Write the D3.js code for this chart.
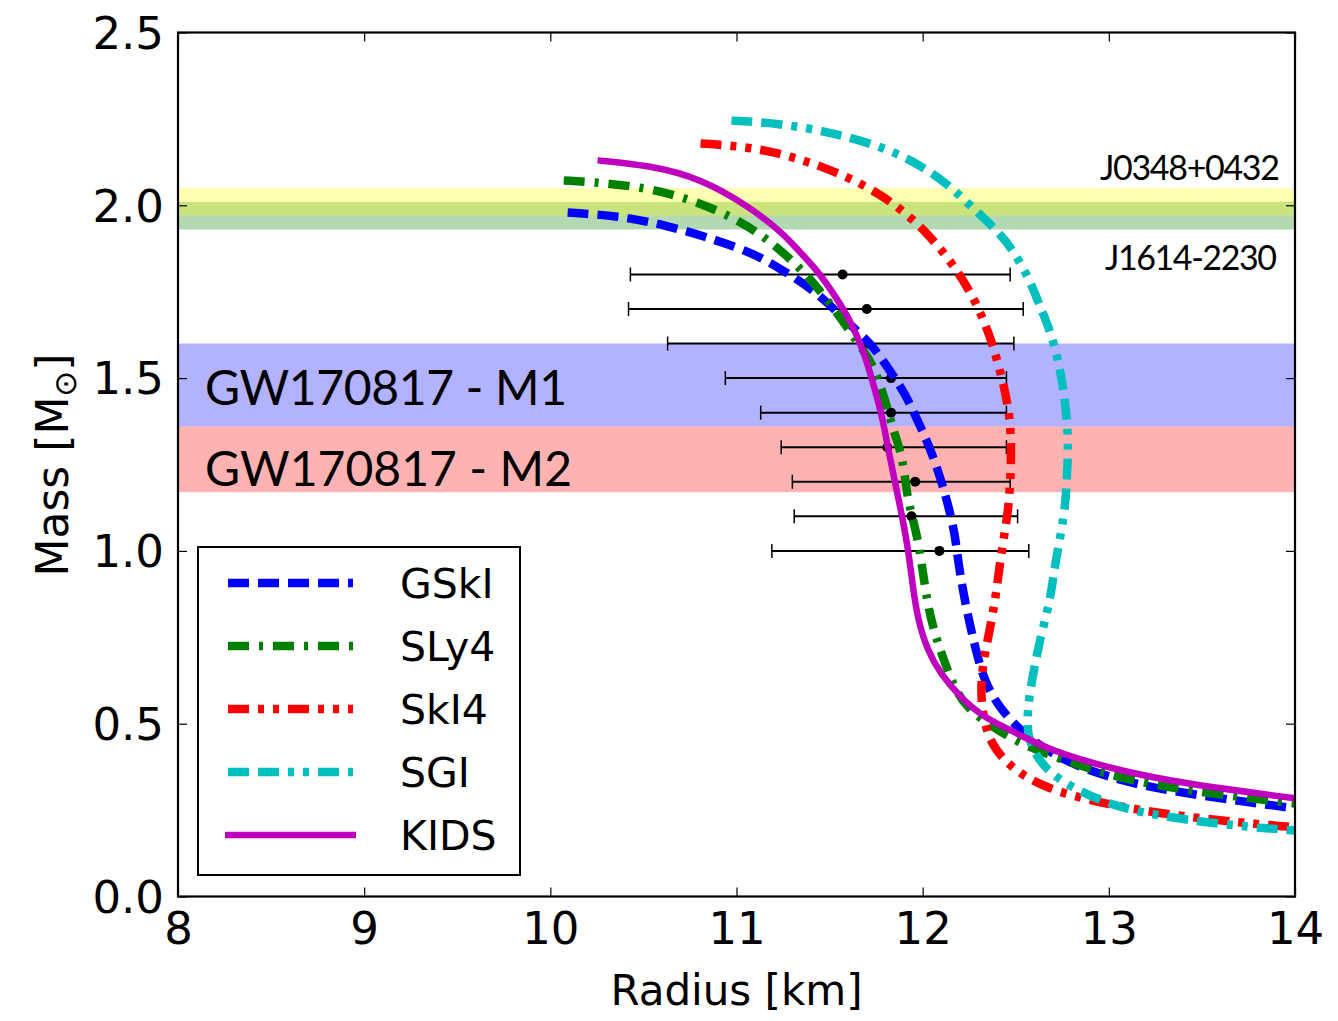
<!DOCTYPE html>
<html>
  <head>
    <meta charset="utf-8">
    <title>Mass-radius relation</title>
    <script src="https://cdnjs.cloudflare.com/ajax/libs/d3/7.8.5/d3.min.js"></script>
    <style>
      body { margin: 0; background: #fff; }
      svg text { font-family: "DejaVu Sans", sans-serif; fill: #000; }
      .band-label { font-family: Lato, "Open Sans", sans-serif; }
    </style>
  </head>

  <body>
    <div id="vis"></div>
    <script>
      // mass-radius curves, radius in km, mass in solar masses
      var gskiR = [10.093, 10.361, 10.630, 10.898, 11.090, 11.225, 11.360, 11.478, 11.601, 11.719, 11.816, 11.907, 11.977, 12.041, 12.095, 12.138, 12.175, 12.191, 12.234, 12.288, 12.331, 12.406, 12.514, 12.642, 12.793, 13.045, 13.399, 14.0];
      var gskiM = [1.979, 1.970, 1.942, 1.898, 1.861, 1.820, 1.774, 1.725, 1.658, 1.603, 1.528, 1.455, 1.372, 1.296, 1.212, 1.131, 1.045, 0.964, 0.833, 0.706, 0.625, 0.550, 0.486, 0.431, 0.385, 0.336, 0.298, 0.255];

      var sly4R = [10.072, 10.270, 10.538, 10.769, 10.984, 11.166, 11.370, 11.521, 11.655, 11.730, 11.773, 11.810, 11.848, 11.880, 11.901, 11.918, 11.945, 11.971, 11.993, 12.025, 12.057, 12.084, 12.170, 12.240, 12.342, 12.540, 12.776, 13.045, 13.399, 14.0];
      var sly4M = [2.072, 2.066, 2.049, 2.014, 1.965, 1.904, 1.806, 1.704, 1.600, 1.542, 1.479, 1.415, 1.340, 1.291, 1.233, 1.155, 1.097, 1.039, 0.972, 0.848, 0.778, 0.729, 0.599, 0.547, 0.501, 0.437, 0.391, 0.344, 0.307, 0.269];

      var ski4R = [10.807, 10.968, 11.183, 11.488, 11.773, 12.025, 12.240, 12.363, 12.444, 12.471, 12.476, 12.471, 12.460, 12.433, 12.410, 12.390, 12.363, 12.326, 12.310, 12.326, 12.363, 12.471, 12.648, 12.954, 13.399, 14.0];
      var ski4M = [2.179, 2.173, 2.159, 2.109, 2.037, 1.927, 1.774, 1.629, 1.464, 1.377, 1.282, 1.204, 1.117, 1.030, 0.943, 0.860, 0.778, 0.683, 0.596, 0.518, 0.443, 0.373, 0.315, 0.269, 0.229, 0.200];

      var sgiR = [10.973, 11.236, 11.505, 11.703, 11.864, 11.988, 12.132, 12.256, 12.401, 12.487, 12.578, 12.632, 12.685, 12.728, 12.755, 12.776, 12.782, 12.776, 12.766, 12.739, 12.712, 12.685, 12.632, 12.589, 12.562, 12.562, 12.616, 12.685, 12.830, 13.045, 13.313, 13.667, 14.0];
      var sgiM = [2.245, 2.237, 2.211, 2.182, 2.150, 2.115, 2.063, 1.999, 1.927, 1.869, 1.782, 1.704, 1.638, 1.551, 1.473, 1.377, 1.299, 1.224, 1.126, 1.039, 0.964, 0.856, 0.749, 0.634, 0.538, 0.460, 0.402, 0.356, 0.307, 0.258, 0.229, 0.205, 0.191];

      var kidsR = [10.254, 10.538, 10.807, 11.075, 11.252, 11.333, 11.435, 11.521, 11.612, 11.682, 11.735, 11.784, 11.816, 11.853, 11.891, 11.923, 11.945, 11.971, 12.025, 12.095, 12.202, 12.326, 12.508, 12.685, 13.045, 13.399, 14.0];
      var kidsM = [2.130, 2.115, 2.078, 1.994, 1.918, 1.869, 1.811, 1.745, 1.667, 1.580, 1.484, 1.386, 1.291, 1.195, 1.097, 1.001, 0.906, 0.807, 0.712, 0.645, 0.576, 0.518, 0.472, 0.422, 0.365, 0.327, 0.284];

      // radius estimates with horizontal error bars
      var errMass  = [1.8, 1.7, 1.6, 1.5, 1.4, 1.3, 1.2, 1.1, 1.0];
      var errR     = [11.57, 11.70, 11.70, 11.83, 11.83, 11.81, 11.96, 11.94, 12.09];
      var errLow   = [10.43, 10.42, 10.63, 10.94, 11.13, 11.24, 11.30, 11.31, 11.19];
      var errHigh  = [12.47, 12.54, 12.49, 12.45, 12.45, 12.45, 12.47, 12.51, 12.57];

      // horizontal mass bands [low, high]
      var j1614Band = [1.93, 2.01];
      var j0348Band = [1.97, 2.05];
      var gwM1Band  = [1.36, 1.60];
      var gwM2Band  = [1.17, 1.36];

      var xTicks = [8, 9, 10, 11, 12, 13, 14];
      var yTicks = [0.0, 0.5, 1.0, 1.5, 2.0, 2.5];

      var series = [
        { name: 'GSkI', r: gskiR, m: gskiM, color: '#0000ff', dash: '21,9', width: 8.5 },
        { name: 'SLy4', r: sly4R, m: sly4M, color: '#008000', dash: '21,10,4,10', width: 8.5 },
        { name: 'SkI4', r: ski4R, m: ski4M, color: '#ff0000', dash: '21,9,6,9,6,9', width: 8.5 },
        { name: 'SGI',  r: sgiR,  m: sgiM,  color: '#00bfbf', dash: '21,9,21,9,6,9,6,9', width: 8.5 },
        { name: 'KIDS', r: kidsR, m: kidsM, color: '#bf00bf', dash: null, width: 6.5 }
      ];

      var W = 1338, H = 1021;
      var plotL = 178, plotR = 1295, plotT = 32.5, plotB = 896.5;

      var x = d3.scaleLinear().domain([8, 14]).range([plotL, plotR]);
      var y = d3.scaleLinear().domain([0, 2.5]).range([plotB, plotT]);

      var svg = d3.select('#vis').append('svg')
                  .attr('width', W)
                  .attr('height', H);

      svg.append('defs').append('clipPath').attr('id', 'plot')
        .append('rect')
        .attr('x', plotL).attr('y', plotT)
        .attr('width', plotR - plotL).attr('height', plotB - plotT);

      var plot = svg.append('g').attr('clip-path', 'url(#plot)');

      // bands: green first, yellow over it
      var bands = [
        { b: j1614Band, color: 'green' },
        { b: j0348Band, color: 'yellow' },
        { b: gwM1Band,  color: 'blue' },
        { b: gwM2Band,  color: 'red' }
      ];
      plot.selectAll('rect.band').data(bands).enter()
        .append('rect')
        .attr('class', 'band')
        .attr('x', plotL)
        .attr('width', plotR - plotL)
        .attr('y', function(d){ return y(d.b[1]); })
        .attr('height', function(d){ return y(d.b[0]) - y(d.b[1]); })
        .attr('fill', function(d){ return d.color; })
        .attr('fill-opacity', 0.3);

      // error bars
      var eb = plot.selectAll('g.err').data(errMass).enter()
        .append('g').attr('class', 'err');
      eb.append('line')
        .attr('x1', function(d, i){ return x(errLow[i]); })
        .attr('x2', function(d, i){ return x(errHigh[i]); })
        .attr('y1', function(d){ return y(d); })
        .attr('y2', function(d){ return y(d); })
        .attr('stroke', '#000').attr('stroke-width', 2);
      eb.append('line')
        .attr('x1', function(d, i){ return x(errLow[i]); })
        .attr('x2', function(d, i){ return x(errLow[i]); })
        .attr('y1', function(d){ return y(d) - 7; })
        .attr('y2', function(d){ return y(d) + 7; })
        .attr('stroke', '#000').attr('stroke-width', 1.5);
      eb.append('line')
        .attr('x1', function(d, i){ return x(errHigh[i]); })
        .attr('x2', function(d, i){ return x(errHigh[i]); })
        .attr('y1', function(d){ return y(d) - 7; })
        .attr('y2', function(d){ return y(d) + 7; })
        .attr('stroke', '#000').attr('stroke-width', 1.5);
      eb.append('circle')
        .attr('cx', function(d, i){ return x(errR[i]); })
        .attr('cy', function(d){ return y(d); })
        .attr('r', 5)
        .attr('fill', '#000');

      // curves (B-spline through the sampled points)
      var line = d3.line()
        .x(function(d){ return x(d[0]); })
        .y(function(d){ return y(d[1]); })
        .curve(d3.curveBasis);

      plot.selectAll('path.eos').data(series).enter()
        .append('path')
        .attr('class', 'eos')
        .attr('d', function(s){ return line(d3.zip(s.r, s.m)); })
        .attr('fill', 'none')
        .attr('stroke', function(s){ return s.color; })
        .attr('stroke-width', function(s){ return s.width; })
        .attr('stroke-dasharray', function(s){ return s.dash; });

      // band labels
      svg.append('text').attr('class', 'band-label')
        .attr('x', 205).attr('y', 405)
        .style('font-size', '48px')
        .attr('textLength', 362)
        .text('GW170817 - M1');
      svg.append('text').attr('class', 'band-label')
        .attr('x', 205).attr('y', 486)
        .style('font-size', '48px')
        .attr('textLength', 367)
        .text('GW170817 - M2');
      svg.append('text').attr('class', 'band-label')
        .attr('x', 1280).attr('y', 180)
        .attr('text-anchor', 'end')
        .style('font-size', '34px')
        .attr('textLength', 180)
        .text('J0348+0432');
      svg.append('text').attr('class', 'band-label')
        .attr('x', 1277).attr('y', 270)
        .attr('text-anchor', 'end')
        .style('font-size', '34px')
        .attr('textLength', 172)
        .text('J1614-2230');

      // axes: inward ticks on all four sides
      var tickLen = 9;
      var xBottom = d3.axisBottom(x).tickValues(xTicks).tickSizeInner(-tickLen).tickSizeOuter(0).tickPadding(16).tickFormat(d3.format('d'));
      var xTop = d3.axisTop(x).tickValues(xTicks).tickSizeInner(-tickLen).tickSizeOuter(0).tickFormat('');
      var yLeft = d3.axisLeft(y).tickValues(yTicks).tickSizeInner(-tickLen).tickSizeOuter(0).tickPadding(14).tickFormat(d3.format('.1f'));
      var yRight = d3.axisRight(y).tickValues(yTicks).tickSizeInner(-tickLen).tickSizeOuter(0).tickFormat('');

      var gx = svg.append('g').attr('transform', 'translate(0,' + plotB + ')').call(xBottom);
      svg.append('g').attr('transform', 'translate(0,' + plotT + ')').call(xTop);
      var gy = svg.append('g').attr('transform', 'translate(' + plotL + ',0)').call(yLeft);
      svg.append('g').attr('transform', 'translate(' + plotR + ',0)').call(yRight);

      svg.selectAll('.domain').remove();
      svg.selectAll('.tick line').attr('stroke', '#000').attr('stroke-width', 1.2);
      gx.selectAll('text').style('font-size', '45px').attr('dy', '0.71em').attr('font-family', 'DejaVu Sans');
      gy.selectAll('text').style('font-size', '45px').attr('dy', '0.35em').attr('font-family', 'DejaVu Sans');

      // frame
      svg.append('rect')
        .attr('x', plotL).attr('y', plotT)
        .attr('width', plotR - plotL).attr('height', plotB - plotT)
        .attr('fill', 'none')
        .attr('stroke', '#000').attr('stroke-width', 2.2);

      // axis titles
      svg.append('text')
        .attr('x', (plotL + plotR) / 2).attr('y', 1005)
        .attr('text-anchor', 'middle')
        .style('font-size', '42px')
        .text('Radius [km]');

      var ylab = svg.append('text')
        .attr('transform', 'translate(68,' + 465 + ') rotate(-90)')
        .attr('text-anchor', 'middle')
        .style('font-size', '44px');
      ylab.append('tspan').text('Mass [M');
      ylab.append('tspan').attr('dy', 8).style('font-size', '31px').text('\u2299');
      ylab.append('tspan').attr('dy', -8).text(']');

      // legend
      var lg = svg.append('g');
      lg.append('rect')
        .attr('x', 198).attr('y', 547)
        .attr('width', 322).attr('height', 328)
        .attr('fill', '#fff')
        .attr('stroke', '#000').attr('stroke-width', 2);

      var rows = lg.selectAll('g.item').data(series).enter()
        .append('g').attr('class', 'item')
        .attr('transform', function(d, i){ return 'translate(0,' + (583 + i * 63) + ')'; });
      rows.append('line')
        .attr('x1', function(d){ return d.dash ? 228 : 225; })
        .attr('x2', function(d){ return d.dash ? 353 : 356; })
        .attr('stroke', function(d){ return d.color; })
        .attr('stroke-width', function(d){ return d.width; })
        .attr('stroke-dasharray', function(d){ return d.dash; });
      rows.append('text')
        .attr('x', 400).attr('y', 15)
        .style('font-size', '41px')
        .text(function(d){ return d.name; });
    </script>
  </body>
</html>
